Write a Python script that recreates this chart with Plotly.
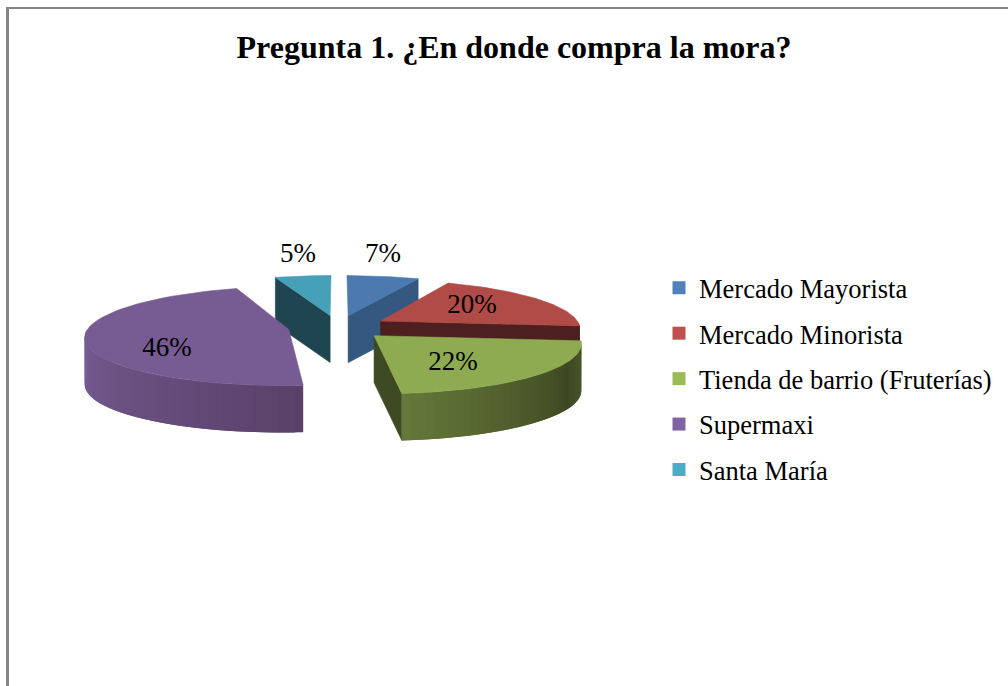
import numpy as np
import plotly.graph_objects as go

# --- Data ---
categories = ["Mercado Mayorista", "Mercado Minorista", "Tienda de barrio (Fruterías)", "Supermaxi", "Santa María"]
shares = [6.7, 19.9, 21.9, 46.3, 5.2]

# --- Colours ---
legend_colors = ["#4f81bd", "#c0504d", "#9bbb59", "#8064a2", "#4bacc6"]
top_colors = ["#4a7aaf", "#b04b47", "#8fab52", "#775c94", "#46a0b8"]
cut_colors = ["#345880", "#4e1f1f", "#3e4a22", "#5a4371", "#1f4650"]
rim_light = ["#345880", "#4e1f1f", "#66793a", "#7a5f98", "#1f4650"]
rim_dark = ["#345880", "#4e1f1f", "#3e4922", "#5a4169", "#1f4650"]
# where along the wall the shading is darkest (0 = clockwise start of the wall)
rim_dark_at = [0, 0, 0.3, 0, 0]

# which cut face of each slice the viewer can see
visible_cut = ["end", "end", "end", None, "start"]
draw_order = [4, 0, 1, 3, 2]

# --- Projection of the tilted pie onto the page (pixels) ---
CX, CY = 338, 327
RX, RY = 200, 48
PERSPECTIVE = 0.13
EXPLODE = 0.25
DEPTH = 47

label_x = [383, 472, 453, 167, 298]
label_y = [255, 306, 363, 349, 255]


def project(theta_deg, r, mid_deg):
    """Ground position on the pie -> page pixels. Angle is clockwise from the back."""
    th, mid = np.radians(theta_deg), np.radians(mid_deg)
    u = r * np.sin(th) + EXPLODE * np.sin(mid)
    v = r * np.cos(th) + EXPLODE * np.cos(mid)
    s = 1 / (1 + PERSPECTIVE * v)
    return CX + RX * u * s, CY - RY * v * s


def poly(xs, ys, color, width=0.6):
    return go.Scatter(
        x=xs, y=ys, mode="lines", fill="toself", fillcolor=color,
        line=dict(color=color, width=width), hoverinfo="skip", showlegend=False,
    )


def mix(c1, c2, t):
    a = [int(c1[i:i + 2], 16) for i in (1, 3, 5)]
    b = [int(c2[i:i + 2], 16) for i in (1, 3, 5)]
    return "rgb(%d,%d,%d)" % tuple(round(p + (q - p) * t) for p, q in zip(a, b))


edges = np.concatenate([[0], np.cumsum(shares)]) / sum(shares) * 360
fig = go.Figure()

for i in draw_order:
    start, end = edges[i], edges[i + 1]
    mid = (start + end) / 2
    ax, ay = project(0, 0, mid)

    # cut face
    if visible_cut[i]:
        th = end if visible_cut[i] == "end" else start
        rx, ry = project(th, 1, mid)
        fig.add_trace(poly([ax, rx, rx, ax, ax], [ay, ry, ry + DEPTH, ay + DEPTH, ay], cut_colors[i]))

    # outer wall, only the part facing the viewer, shaded in overlapping strips
    lo, hi = max(start, 90), min(end, 270)
    if hi > lo:
        steps = np.linspace(lo, hi, int((hi - lo) / 2) + 2)
        strip_ends = np.r_[steps[2:], hi]
        for a, b in zip(steps[:-1], strip_ends):
            arc = np.linspace(a, b, 4)
            x0, y0 = project(arc, 1, mid)
            frac = (a - lo) / (hi - lo)
            dark = rim_dark_at[i]
            t = (frac - dark) / (1 - dark) if frac >= dark else (dark - frac) / dark * 0.35
            fig.add_trace(poly(
                np.r_[x0, x0[::-1], x0[0]],
                np.r_[y0, y0[::-1] + DEPTH, y0[0]],
                mix(rim_dark[i], rim_light[i], t), width=0,
            ))

    # top face
    arc = np.linspace(start, end, 60)
    px, py = project(arc, 1, mid)
    fig.add_trace(poly(np.r_[ax, px, ax], np.r_[ay, py, ay], top_colors[i]))

# percentage labels
fig.add_trace(go.Scatter(
    x=label_x, y=label_y, mode="text",
    text=[f"{v:.0f}%" for v in shares],
    textposition="middle center",
    textfont=dict(family="Liberation Serif", size=27, color="#000000"),
    hoverinfo="skip", showlegend=False,
))

# legend entries
for name, color in zip(categories, legend_colors):
    fig.add_trace(go.Scatter(
        x=[None], y=[None], mode="markers", name=name, legendgroup=name,
        marker=dict(symbol="square", size=13, color=color),
    ))

fig.update_layout(
    width=1008,
    height=686,
    margin=dict(l=0, r=0, t=0, b=0),
    paper_bgcolor="#ffffff",
    plot_bgcolor="#ffffff",
    title=dict(
        text="<b>Pregunta 1. ¿En donde compra la mora?</b>",
        x=514 / 1008, xanchor="center", y=1 - 47 / 686, yanchor="middle",
        font=dict(family="Liberation Serif", size=32, color="#000000"),
    ),
    xaxis=dict(range=[0, 1008], visible=False, fixedrange=True),
    yaxis=dict(range=[686, 0], visible=False, fixedrange=True),
    legend=dict(
        x=659 / 1008, xanchor="left", y=1 - 264 / 686, yanchor="top",
        font=dict(family="Liberation Serif", size=26.5, color="#000000"),
        tracegroupgap=8, bgcolor="rgba(0,0,0,0)",
    ),
    shapes=[
        dict(type="line", x0=7.5, x1=7.5, y0=7, y1=686, line=dict(color="#868686", width=3)),
        dict(type="line", x0=6, x1=1008, y0=8, y1=8, line=dict(color="#868686", width=2)),
    ],
)

fig.write_html(
    "out.html",
    config=dict(displayModeBar=False),
    post_script="document.body.style.margin='0';document.body.style.overflow='hidden';",
)
